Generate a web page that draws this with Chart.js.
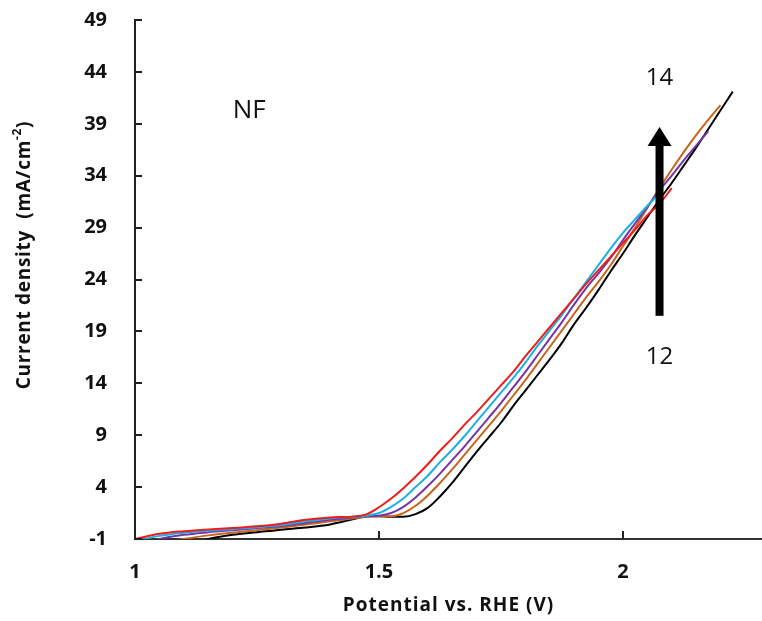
<!DOCTYPE html>
<html>
<head>
<meta charset="utf-8">
<script src="https://cdn.jsdelivr.net/npm/chart.js@4.4.1/dist/chart.umd.min.js"></script>
<style>
    html, body { margin: 0; padding: 0; background: #fff; }
    #wrap { width: 762px; height: 621px; }
</style>
</head>
<body>
<div id="wrap"><canvas id="lsvChart"></canvas></div>
<script>
// Potential grid (V vs. RHE)
const potential = [1.00, 1.05, 1.10, 1.15, 1.20, 1.25, 1.30, 1.35, 1.40, 1.45,
    1.475, 1.50, 1.525, 1.55, 1.575, 1.60, 1.625, 1.65, 1.675, 1.70,
    1.725, 1.75, 1.775, 1.80, 1.825, 1.85, 1.875, 1.90, 1.925, 1.95,
    1.975, 2.00, 2.025, 2.05, 2.075, 2.10, 2.125, 2.15, 2.175, 2.20, 2.225];

// Current density (mA/cm-2), each series ends where its sweep stops
const currentRed = [-1.0, -0.5, -0.25, -0.08, 0.05, 0.22, 0.48, 0.85, 1.08, 1.18,
    1.4, 2.06, 2.9, 3.9, 5.0, 6.2, 7.5, 8.7, 10.0, 11.2,
    12.5, 13.8, 15.1, 16.6, 18.0, 19.4, 20.8, 22.2, 23.6, 24.9,
    26.2, 27.5, 28.8, 30.2, 31.3, 32.8];
const currentCyan = [-1.2, -0.7, -0.4, -0.2, -0.05, 0.12, 0.35, 0.7, 0.98, 1.15,
    1.25, 1.5, 2.1, 2.9, 4.0, 5.1, 6.4, 7.6, 8.9, 10.3,
    11.7, 13.1, 14.5, 16.0, 17.6, 19.1, 20.6, 22.2, 23.8, 25.4,
    27.0, 28.5, 29.8, 31.1, 32.3];
const currentPurple = [-1.6, -1.0, -0.6, -0.35, -0.15, 0.05, 0.25, 0.55, 0.85, 1.1,
    1.2, 1.25, 1.5, 2.1, 3.0, 4.1, 5.3, 6.6, 7.9, 9.3,
    10.7, 12.1, 13.6, 15.1, 16.7, 18.3, 19.9, 21.6, 23.2, 24.6,
    26.1, 27.8, 29.4, 31.0, 32.6, 34.0, 35.5, 36.9, 38.3];
const currentOrange = [-2.0, -1.4, -1.0, -0.65, -0.4, -0.15, 0.1, 0.4, 0.7, 1.0,
    1.15, 1.2, 1.2, 1.5, 2.2, 3.2, 4.4, 5.7, 7.1, 8.5,
    9.9, 11.3, 12.8, 14.3, 15.9, 17.5, 19.1, 20.7, 22.3, 23.8,
    25.4, 27.2, 29.0, 30.9, 32.8, 34.6, 36.3, 37.9, 39.4, 40.8];
const currentBlack = [-2.6, -2.0, -1.5, -1.0, -0.6, -0.35, -0.1, 0.1, 0.4, 0.95,
    1.2, 1.2, 1.15, 1.15, 1.4, 2.0, 3.1, 4.4, 5.9, 7.4,
    8.8, 10.2, 11.8, 13.3, 14.8, 16.3, 17.9, 19.7, 21.3, 23.0,
    24.8, 26.5, 28.3, 30.0, 31.7, 33.3, 35.0, 36.7, 38.5, 40.3, 42.1];

const xTicks = [1, 1.5, 2];
const yTicks = [-1, 4, 9, 14, 19, 24, 29, 34, 39, 44, 49];

// Annotations in data units
const noteNF = { x: 1.234, y: 40.3, text: 'NF' };
const noteLow = { x: 2.075, y: 16.5, text: '12' };
const noteHigh = { x: 2.075, y: 43.4, text: '14' };
const arrow = { x: 2.075, from: 20.5, to: 38.7 };

function toPoints(values) {
    return values.map((v, i) => ({ x: potential[i], y: v }));
}

function series(values, color) {
    return {
        data: toPoints(values),
        borderColor: color,
        borderWidth: 2,
        pointRadius: 0,
        fill: false,
        cubicInterpolationMode: 'monotone'
    };
}

// Inside tick marks, axis titles and the arrow annotation
const decorations = {
    id: 'decorations',
    afterDraw(chart) {
        const ctx = chart.ctx;
        const xs = chart.scales.x;
        const ys = chart.scales.y;
        const area = chart.chartArea;

        ctx.save();
        ctx.strokeStyle = '#222';
        ctx.lineWidth = 2;
        yTicks.forEach(v => {
            const y = Math.round(ys.getPixelForValue(v));
            ctx.beginPath();
            ctx.moveTo(area.left, y);
            ctx.lineTo(area.left + 7, y);
            ctx.stroke();
        });
        xTicks.forEach(v => {
            const x = Math.round(xs.getPixelForValue(v));
            ctx.beginPath();
            ctx.moveTo(x, area.bottom);
            ctx.lineTo(x, area.bottom - 8);
            ctx.stroke();
        });

        // text notes
        ctx.fillStyle = '#111';
        ctx.textAlign = 'center';
        ctx.textBaseline = 'middle';
        ctx.font = '26px "Open Sans"';
        ctx.fillText(noteNF.text, xs.getPixelForValue(noteNF.x), ys.getPixelForValue(noteNF.y));
        ctx.font = '24px "Open Sans"';
        ctx.fillText(noteLow.text, xs.getPixelForValue(noteLow.x), ys.getPixelForValue(noteLow.y));
        ctx.fillText(noteHigh.text, xs.getPixelForValue(noteHigh.x), ys.getPixelForValue(noteHigh.y));

        // arrow
        const ax = xs.getPixelForValue(arrow.x);
        const yBottom = ys.getPixelForValue(arrow.from);
        const yTip = ys.getPixelForValue(arrow.to);
        ctx.fillStyle = '#000';
        ctx.fillRect(ax - 4, yTip + 18, 8, yBottom - yTip - 18);
        ctx.beginPath();
        ctx.moveTo(ax, yTip);
        ctx.lineTo(ax + 12, yTip + 19);
        ctx.lineTo(ax - 12, yTip + 19);
        ctx.closePath();
        ctx.fill();

        // x title
        ctx.fillStyle = '#111';
        ctx.font = 'bold 19px "Open Sans"';
        ctx.letterSpacing = '1px';
        ctx.textBaseline = 'middle';
        ctx.fillText('Potential vs. RHE (V)', (area.left + area.right) / 2, 606);

        // y title with superscript
        ctx.translate(25, 255);
        ctx.rotate(-Math.PI / 2);
        const main = 'Current density  (mA/cm';
        const sup = '-2';
        const tail = ')';
        const bigFont = 'bold 19px "Open Sans"';
        const smallFont = 'bold 12px "Open Sans"';
        ctx.letterSpacing = '0.7px';
        ctx.font = bigFont;
        const wMain = ctx.measureText(main).width;
        const wTail = ctx.measureText(tail).width;
        ctx.font = smallFont;
        const wSup = ctx.measureText(sup).width;
        let start = -(wMain + wSup + wTail) / 2;
        ctx.textAlign = 'left';
        ctx.font = bigFont;
        ctx.fillText(main, start, 0);
        ctx.font = smallFont;
        ctx.fillText(sup, start + wMain, -7);
        ctx.font = bigFont;
        ctx.fillText(tail, start + wMain + wSup, 0);
        ctx.restore();
    }
};

const ctx = document.getElementById('lsvChart').getContext('2d');

new Chart(ctx, {
    type: 'line',
    data: {
        datasets: [
            series(currentRed, '#ee1c1c'),
            series(currentCyan, '#1ab0e4'),
            series(currentPurple, '#7435a8'),
            series(currentOrange, '#c8651b'),
            series(currentBlack, '#000000')
        ]
    },
    options: {
        responsive: true,
        maintainAspectRatio: false,
        animation: false,
        layout: {
            padding: { top: 0, right: 0, left: 0, bottom: 0 }
        },
        scales: {
            x: {
                type: 'linear',
                min: 1,
                max: 2.285,
                afterBuildTicks: scale => { scale.ticks = xTicks.map(v => ({ value: v })); },
                afterFit: scale => { scale.height = 82; scale.paddingLeft = 0; scale.paddingRight = 0; },
                grid: { display: true, drawOnChartArea: false, drawTicks: false },
                border: { display: true, color: '#333', width: 2 },
                ticks: {
                    padding: 21,
                    color: '#111',
                    font: { family: 'Open Sans', size: 20, weight: 'bold' },
                    maxRotation: 0,
                    callback: value => String(value)
                }
            },
            y: {
                min: -1,
                max: 49,
                afterBuildTicks: scale => { scale.ticks = yTicks.map(v => ({ value: v })); },
                afterFit: scale => { scale.width = 135; scale.paddingTop = 20; scale.paddingBottom = 0; },
                grid: { display: true, drawOnChartArea: false, drawTicks: false },
                border: { display: true, color: '#222', width: 2 },
                ticks: {
                    padding: 28,
                    color: '#111',
                    font: { family: 'Open Sans', size: 20, weight: 'bold' }
                }
            }
        },
        plugins: {
            legend: { display: false },
            tooltip: { enabled: false }
        }
    },
    plugins: [decorations]
});
</script>
</body>
</html>
